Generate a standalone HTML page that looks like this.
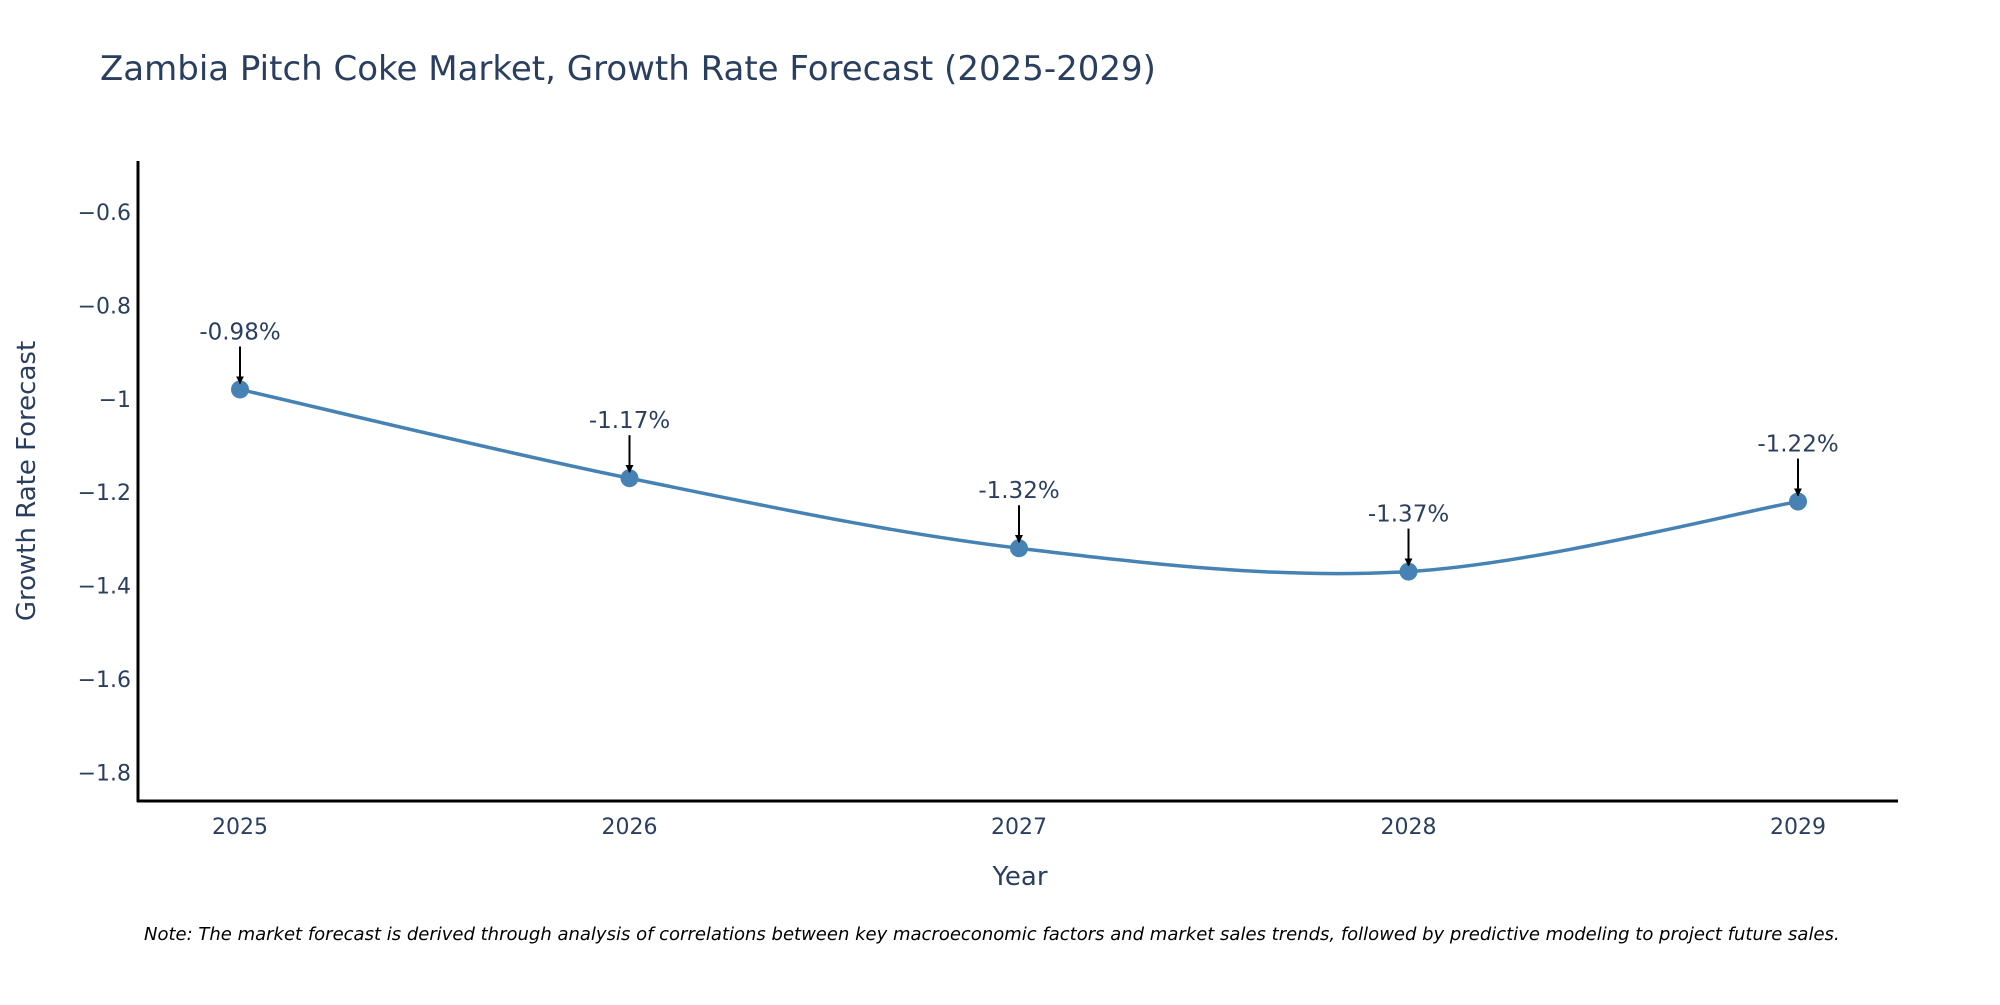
<!DOCTYPE html>
<html><head><meta charset="utf-8"><style>
body{margin:0;background:#fff;width:2000px;height:1000px;overflow:hidden}
svg text{font-family:"DejaVu Sans","Liberation Sans",sans-serif}
</style></head><body>
<svg id="chart" width="2000" height="1000" xmlns="http://www.w3.org/2000/svg">
<defs><marker id="ah" viewBox="0 0 10 10" refX="9" refY="5" markerWidth="8" markerHeight="8" orient="auto" markerUnits="userSpaceOnUse"><path d="M0,0 L10,5 L0,10 z" fill="#000"/></marker></defs>
<text x="100" y="80" font-size="34" fill="#2a3f5f">Zambia Pitch Coke Market, Growth Rate Forecast (2025-2029)</text>
<g id="yticks"></g><g id="xticks"></g>
<line x1="138" y1="161" x2="138" y2="802" stroke="#000" stroke-width="3"/>
<line x1="137" y1="801" x2="1898" y2="801" stroke="#000" stroke-width="3"/>
<g id="series"></g><g id="annos"></g>
<text x="1020" y="885" font-size="26" fill="#2a3f5f" text-anchor="middle">Year</text>
<text transform="translate(35,481) rotate(-90)" font-size="26" fill="#2a3f5f" text-anchor="middle">Growth Rate Forecast</text>
<text x="144" y="940" font-size="18" font-style="italic" fill="#000">Note: The market forecast is derived through analysis of correlations between key macroeconomic factors and market sales trends, followed by predictive modeling to project future sales.</text>
</svg>
<script>
const years=[2025,2026,2027,2028,2029];
const values=[-0.98,-1.17,-1.32,-1.37,-1.22];
const labels=["-0.98%","-1.17%","-1.32%","-1.37%","-1.22%"];
const yTicks=[-0.6,-0.8,-1,-1.2,-1.4,-1.6,-1.8];
const yTickLabels=["\u22120.6","\u22120.8","\u22121","\u22121.2","\u22121.4","\u22121.6","\u22121.8"];
const NS="http://www.w3.org/2000/svg";
const X=v=>240+(v-2025)*389.5;
const Y=v=>212+(-0.6-v)/0.2*93.4;
function mk(t,a,p){const e=document.createElementNS(NS,t);for(const k in a)e.setAttribute(k,a[k]);p.appendChild(e);return e;}
const yt=document.getElementById('yticks');
yTicks.forEach((v,i)=>{const t=mk('text',{x:131,y:Y(v)+8,'font-size':22,fill:'#2a3f5f','text-anchor':'end'},yt);t.textContent=yTickLabels[i];

});
const xt=document.getElementById('xticks');
years.forEach(v=>{const t=mk('text',{x:X(v),y:834,'font-size':22,fill:'#2a3f5f','text-anchor':'middle'},xt);t.textContent=v;

});
const pts=years.map((y,i)=>[X(y),Y(values[i])]);
let d=`M${pts[0][0]},${pts[0][1]}`;
for(let i=0;i<pts.length-1;i++){const p0=pts[Math.max(0,i-1)],p1=pts[i],p2=pts[i+1],p3=pts[Math.min(pts.length-1,i+2)];const s=1/6;
d+=` C${p1[0]+(p2[0]-p0[0])*s},${p1[1]+(p2[1]-p0[1])*s} ${p2[0]-(p3[0]-p1[0])*s},${p2[1]-(p3[1]-p1[1])*s} ${p2[0]},${p2[1]}`;}
const sg=document.getElementById('series');
const ln=mk('path',{d:d,fill:'none',stroke:'#4682b4','stroke-width':3.5},sg);


const ag=document.getElementById('annos');
pts.forEach((p,i)=>{const c=mk('circle',{cx:p[0],cy:p[1],r:9,fill:'#4682b4'},sg);


const a=mk('line',{x1:p[0],y1:p[1]-43,x2:p[0],y2:p[1]-6,stroke:'#000','stroke-width':2,'marker-end':'url(#ah)'},ag);


const t=mk('text',{x:p[0],y:p[1]-50,'font-size':23,fill:'#2a3f5f','text-anchor':'middle'},ag);t.textContent=labels[i];

});
</script>
</body></html>
